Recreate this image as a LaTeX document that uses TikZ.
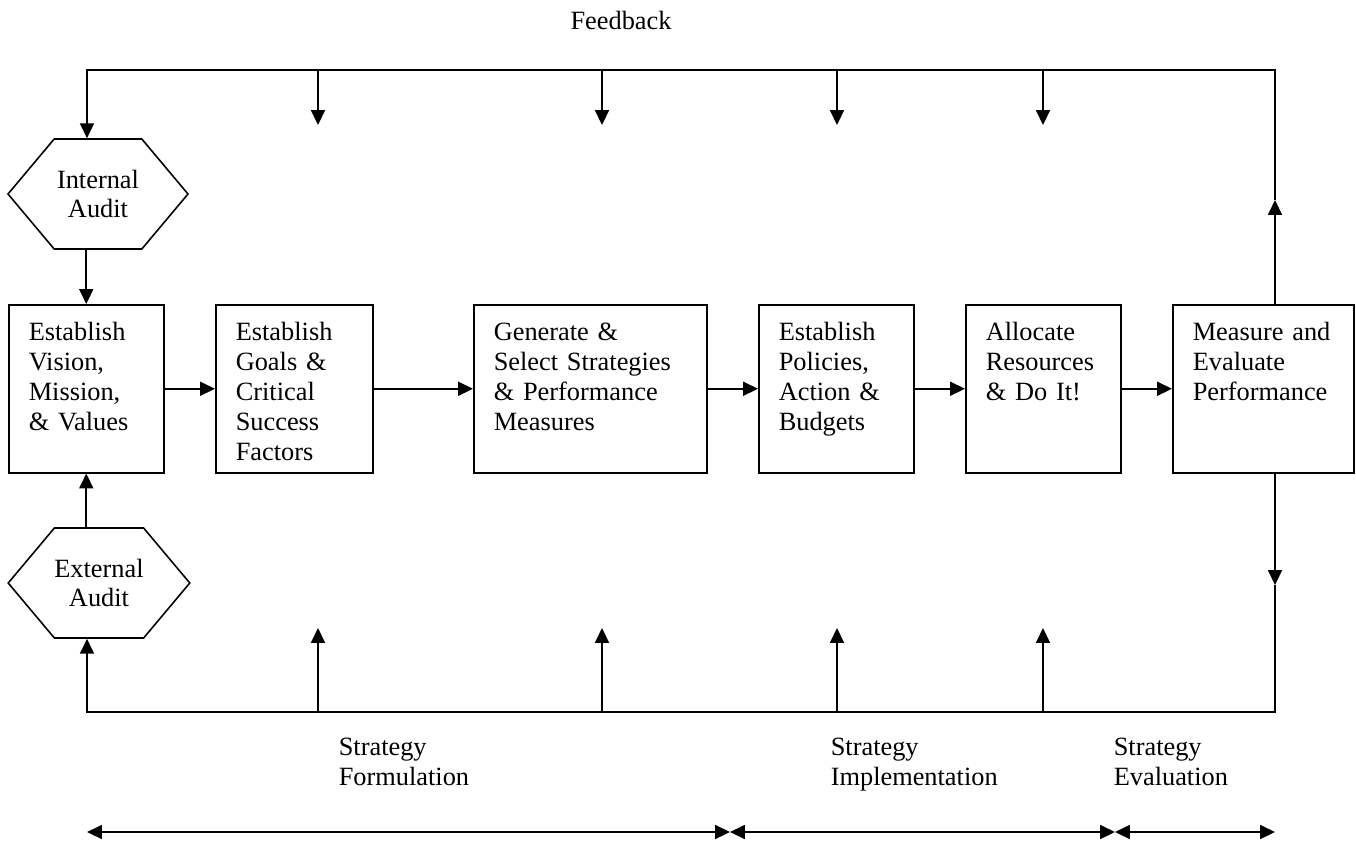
\documentclass[tikz,border=0pt]{standalone}
\usepackage{fontspec}
\setmainfont{Liberation Serif}
\usetikzlibrary{arrows.meta,shapes.symbols}
\tikzset{>={Triangle[length=8.5pt,width=8pt]}}
\tikzset{
  every node/.style={font=\fontsize{15}{17}\selectfont},
  stage/.style={draw, anchor=north west, align=left, text width=#1,
    inner xsep=0.4cm, inner ysep=0.3cm, text height=12pt, text depth=66.5pt},
  audit/.style={draw, shape=signal, signal to=west and east, signal pointer angle=100,
    minimum width=3.6cm, minimum height=2.2cm, align=center, inner sep=0pt},
  phase/.style={anchor=north west, align=left, inner sep=0pt},
}

\begin{document}
\begin{tikzpicture}[x=0.02cm, y=-0.02cm, line width=0.9pt]
  \useasboundingbox (0,0) rectangle (1356,840);

  % the six stages
  \node[stage=2.3cm]  (vm) at (8,304)    {Establish\\Vision,\\Mission,\\\& Values};
  \node[stage=2.34cm] (gc) at (215,304)  {Establish\\Goals \&\\Critical\\Success\\Factors};
  \node[stage=3.86cm] (gs) at (473,304)  {Generate \&\\Select Strategies\\\& Performance\\Measures};
  \node[stage=2.3cm]  (pb) at (758,304)  {Establish\\Policies,\\Action \&\\Budgets};
  \node[stage=2.3cm]  (ar) at (965,304)  {Allocate\\Resources\\\& Do It!};
  \node[stage=2.82cm] (me) at (1172,304) {Measure and\\Evaluate\\Performance};

  \node[audit] (ia) at (98,194) {Internal\\Audit};
  \node[audit] (ea) at (99,583) {External\\Audit};

  \draw[->] (vm.east) -- (gc.west);
  \draw[->] (gc.east) -- (gs.west);
  \draw[->] (gs.east) -- (pb.west);
  \draw[->] (pb.east) -- (ar.west);
  \draw[->] (ar.east) -- (me.west);

  \draw[->] (ia.south -| vm.north) -- (vm.north);
  \draw[->] (ea.north -| vm.south) -- (vm.south);

  % feedback loop, top
  \coordinate (tl) at (87,70);
  \coordinate (tr) at (1275,70);
  \coordinate (up) at (1275,200);
  \draw[->] (me.north -| tr) -- (up);
  \draw[->] (up) -- (tr) -- (tl) -- (ia.north -| tl);
  \foreach \x in {318,602,837,1043}
    \draw[->] (\x,70) -- (\x,125);

  % feedback loop, bottom
  \coordinate (bl) at (87,712);
  \coordinate (br) at (1275,712);
  \coordinate (dn) at (1275,585);
  \draw[->] (me.south -| br) -- (dn);
  \draw[->] (dn) -- (br) -- (bl) -- (ea.south -| bl);
  \foreach \x in {318,602,837,1043}
    \draw[->] (\x,712) -- (\x,628);

  \node[anchor=base] (fb) at (621,29) {Feedback};

  % phases
  \node[phase] (sf) at (338,737)  {Strategy\\Formulation};
  \node[phase] (si) at (830,737)  {Strategy\\Implementation};
  \node[phase] (se) at (1113,737) {Strategy\\Evaluation};

  \coordinate (pa) at (87,832);
  \coordinate (pi) at (730,832);
  \coordinate (pe) at (1115,832);
  \coordinate (pz) at (1275,832);
  \draw[<->] (pa) -- (pi);
  \draw[<->] (pi) -- (pe);
  \draw[<->] (pe) -- (pz);
\end{tikzpicture}
\end{document}
